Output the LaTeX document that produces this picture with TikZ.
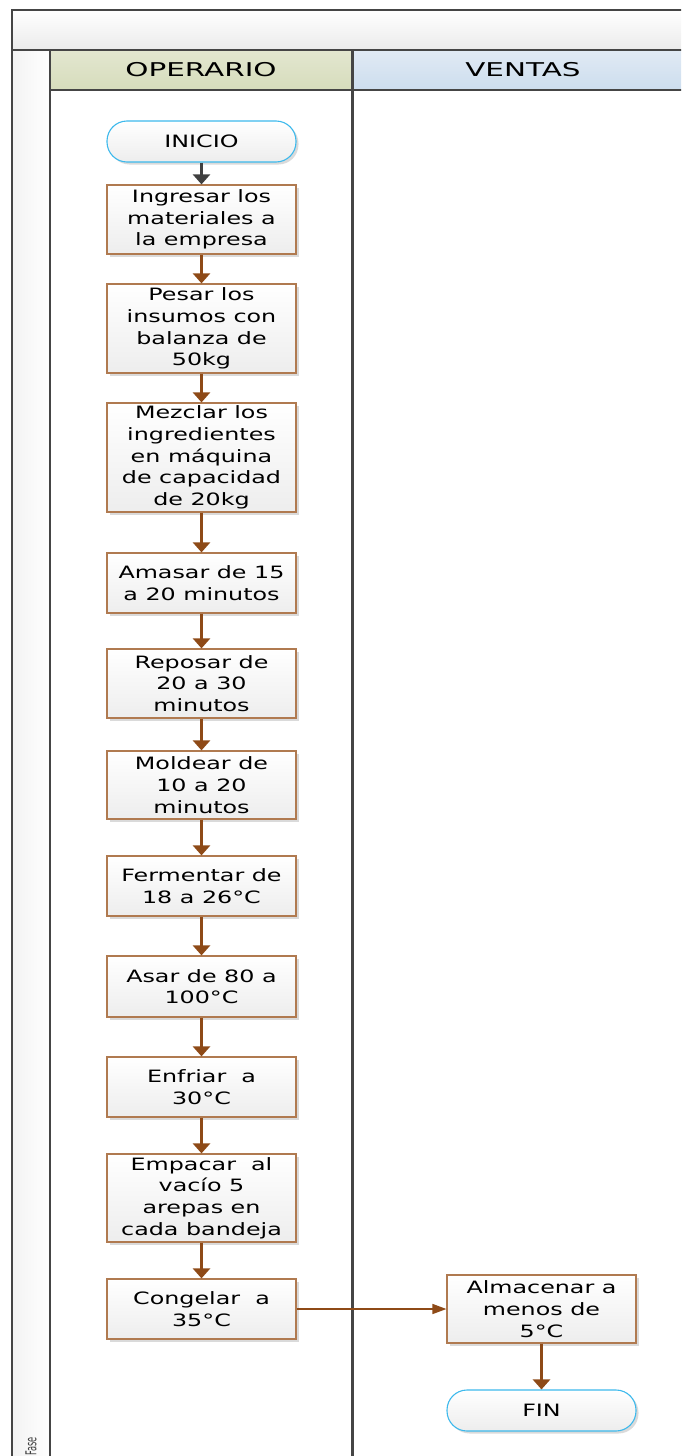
\documentclass[tikz,border=0pt]{standalone}
\usepackage{fontspec}
\usetikzlibrary{arrows.meta,shadows}
\newfontfamily\bodyfont[FakeStretch=1.4]{DejaVu Sans}
\newfontfamily\headfont[FakeStretch=1.55]{DejaVu Sans}
\newfontfamily\phasefont[FakeStretch=0.55]{DejaVu Sans}

\definecolor{laneline}{HTML}{454545}
\definecolor{boxedge}{HTML}{B07A50}
\definecolor{flow}{HTML}{8E4A17}
\definecolor{startarrow}{HTML}{404040}
\definecolor{termedge}{HTML}{3DB9EC}
\definecolor{opfill}{HTML}{D6DCBC}
\definecolor{opfilltop}{HTML}{E3E7D0}
\definecolor{vefill}{HTML}{CCDDEE}
\definecolor{vefilltop}{HTML}{E1EAF4}

\tikzset{
  txt/.style={font=\bodyfont\fontsize{17}{21.7}\selectfont, text=black, align=center, inner sep=0pt},
  headtxt/.style={font=\headfont\fontsize{19}{23}\selectfont, text=black, inner sep=0pt},
  boxshadow/.style={drop shadow={shadow xshift=2.5pt, shadow yshift=-2.5pt, fill=black!18, opacity=0.8}},
  stepbox/.style={txt, draw=boxedge, line width=1.2pt, top color=white, bottom color=black!7,
    minimum width=189pt, boxshadow},
  terminal/.style={txt, draw=termedge, line width=1.1pt, rounded corners=20pt, top color=white,
    bottom color=black!7, minimum width=189pt, minimum height=41pt, boxshadow},
  flowarrow/.style={draw=flow, line width=3pt, -{Triangle[length=10pt,width=17pt]}},
  sidearrow/.style={draw=flow, line width=1.5pt, -{Triangle[length=14pt,width=10pt]}},
  lanerule/.style={draw=laneline, line width=2.2pt},
}

\begin{document}
\begin{tikzpicture}[x=1pt,y=-1pt]
\useasboundingbox (0,0) rectangle (681,1456);
\begin{scope}
  \clip (0,0) rectangle (681,1456);
  % pool title band and phase strip
  \shade[top color=white, bottom color=black!8] (12,10) rectangle (700,50);
  \shade[left color=black!5, right color=white] (12,50) rectangle (50,1480);
  % lane headers
  \shade[top color=opfilltop, bottom color=opfill] (50,50) rectangle (352.5,90);
  \shade[top color=vefilltop, bottom color=vefill] (352.5,50) rectangle (700,90);
  % frame and lane rules
  \draw[lanerule] (12,1480) -- (12,10) -- (700,10);
  \draw[lanerule] (12,50) -- (700,50);
  \draw[lanerule] (50,50) -- (50,1480);
  \draw[lanerule] (352.5,50) -- (352.5,1480);
  \draw[draw=laneline, line width=1.2pt] (50,90) -- (700,90);
  \node[rotate=90, anchor=east, inner sep=0pt, text=black!75,
    font=\phasefont\fontsize{15}{15}\selectfont] (fase) at (31,1437) {Fase};
\end{scope}

% lane titles
\node[headtxt] (hop) at (201,70) {OPERARIO};
\node[headtxt] (hve) at (523,70) {VENTAS};

% process steps
\node[terminal] (inicio) at (201.5,141.5) {INICIO};
\node[stepbox, minimum height=69pt]  (b1)  at (201.5,219.5)  {Ingresar los\\materiales a\\la empresa};
\node[stepbox, minimum height=89pt]  (b2)  at (201.5,328.5)  {Pesar los\\insumos con\\balanza de\\50kg};
\node[stepbox, minimum height=109pt] (b3)  at (201.5,457.5)  {Mezclar los\\ingredientes\\en máquina\\de capacidad\\de 20kg};
\node[stepbox, minimum height=60pt]  (b4)  at (201.5,583)    {Amasar de 15\\a 20 minutos};
\node[stepbox, minimum height=69pt]  (b5)  at (201.5,683.5)  {Reposar de\\20 a 30\\minutos};
\node[stepbox, minimum height=68pt]  (b6)  at (201.5,785)    {Moldear de\\10 a 20\\minutos};
\node[stepbox, minimum height=60pt]  (b7)  at (201.5,886)    {Fermentar de\\18 a 26°C};
\node[stepbox, minimum height=61pt]  (b8)  at (201.5,986.5)  {Asar de 80 a\\100°C};
\node[stepbox, minimum height=60pt]  (b9)  at (201.5,1087)   {Enfriar~ a\\30°C};
\node[stepbox, minimum height=88pt]  (b10) at (201.5,1198)   {Empacar~ al\\vacío 5\\arepas en\\cada bandeja};
\node[stepbox, minimum height=60pt]  (b11) at (201.5,1309)   {Congelar~ a\\35°C};
\node[stepbox, minimum height=68pt]  (b12) at (541.5,1309)   {Almacenar a\\menos de\\5°C};
\node[terminal] (fin) at (541.5,1410.5) {FIN};

% connectors
\draw[draw=startarrow, line width=3pt, -{Triangle[length=10pt,width=17pt]}] (inicio) -- (b1);
\draw[flowarrow] (b1) -- (b2);
\draw[flowarrow] (b2) -- (b3);
\draw[flowarrow] (b3) -- (b4);
\draw[flowarrow] (b4) -- (b5);
\draw[flowarrow] (b5) -- (b6);
\draw[flowarrow] (b6) -- (b7);
\draw[flowarrow] (b7) -- (b8);
\draw[flowarrow] (b8) -- (b9);
\draw[flowarrow] (b9) -- (b10);
\draw[flowarrow] (b10) -- (b11);
\draw[sidearrow] (b11) -- (b12);
\draw[flowarrow] (b12) -- (fin);
\end{tikzpicture}
\end{document}
